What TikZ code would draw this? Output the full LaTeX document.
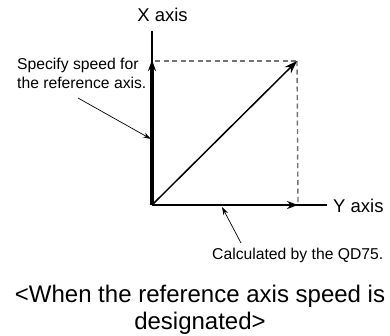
\documentclass[tikz,border=0pt]{standalone}
\usepackage{fontspec}
\setmainfont{Liberation Sans}
\usetikzlibrary{arrows.meta}
\begin{document}
\begin{tikzpicture}[x=1pt,y=-1pt,
  bigarrow/.style={-{Stealth[length=11pt,width=8pt]}},
  callout/.style={line width=0.7pt,-{Stealth[length=8pt,width=5pt]}},
  guide/.style={draw=black!55,line width=1.4pt,dash pattern=on 5pt off 3.5pt},
  lbl/.style={inner sep=0pt,font=\fontsize{15.7}{19}\selectfont},
  axlbl/.style={inner sep=0pt,font=\fontsize{18.5}{22}\selectfont},
  captiontext/.style={inner sep=0pt,align=center,font=\fontsize{24}{26.5}\selectfont}]
\useasboundingbox (0,0) rectangle (390,335);
\coordinate (O) at (152,205);
\coordinate (xtop) at (152,31);
\coordinate (xarr) at (152,60);
\coordinate (P) at (297,61);
\coordinate (ytip) at (298,205);
\coordinate (yend) at (327,205);
\coordinate (gstart) at (155,61);
\coordinate (c1s) at (78,98);
\coordinate (c1e) at (151,139);
\coordinate (c2s) at (241,243);
\coordinate (c2e) at (222,207);
% dashed guides
\draw[guide] (gstart) -- (P);
\draw[guide] (P) -- (ytip);
% axes
\draw[line width=1.5pt] (O) -- (xtop);
\draw[line width=3.4pt,bigarrow] (O) -- (xarr);
\draw[line width=2pt] (O) -- (yend);
\draw[line width=2pt,bigarrow] (O) -- (ytip);
% resultant
\draw[line width=1.5pt,-{Stealth[length=13pt,width=9pt]}] (O) -- (P);
% labels
\node[axlbl,anchor=base] (xl) at (162.5,21.5) {X axis};
\node[axlbl,anchor=base west] (yl) at (333,212) {Y axis};
\node[lbl,anchor=north west,align=left] (spec) at (17,58) {Specify speed for\\the reference axis.};
\node[lbl,anchor=base west] (calc) at (212,259) {Calculated by the QD75.};
\node[captiontext,anchor=north] (caption) at (200,285) {<When the reference axis speed is\\designated>};
% callouts
\draw[callout] (c1s) -- (c1e);
\draw[callout] (c2s) -- (c2e);
\end{tikzpicture}
\end{document}
